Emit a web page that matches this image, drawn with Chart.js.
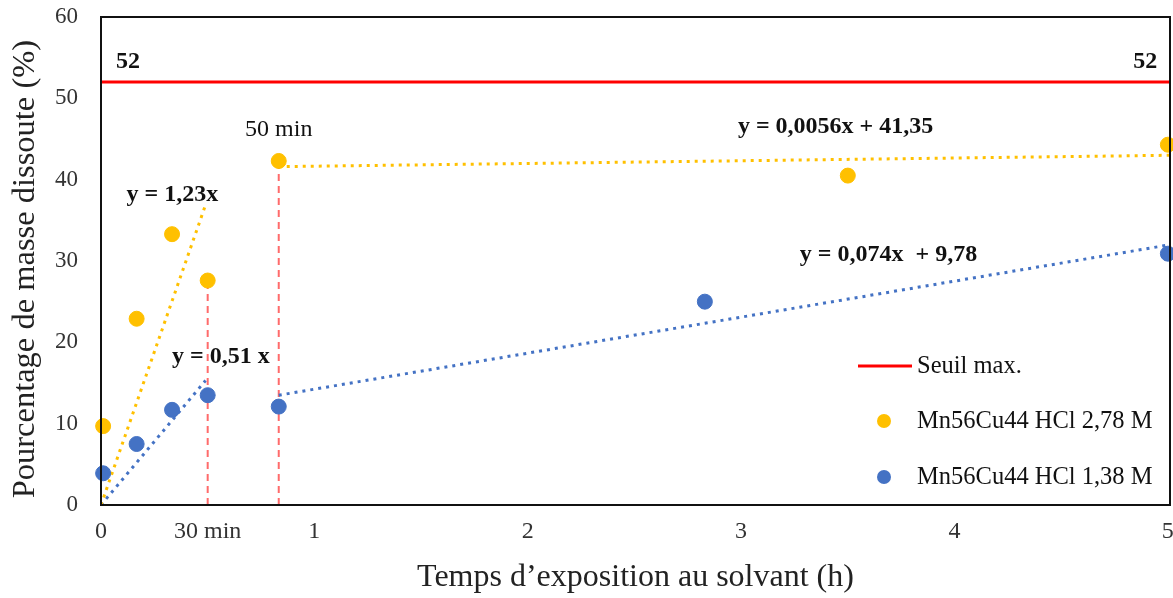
<!DOCTYPE html>
<html>
<head>
<meta charset="utf-8">
<script src="https://cdn.jsdelivr.net/npm/chart.js@4.4.0/dist/chart.umd.min.js"></script>
<style>
    html, body { margin: 0; padding: 0; background: #fff; }
    #wrap { width: 1173px; height: 598px; }
</style>
</head>
<body>
<div id="wrap"><canvas id="chart" width="1173" height="598"></canvas></div>
<script>
// temps en heures
const timesOrange = [0.01, 0.167, 0.333, 0.5, 0.833, 3.5, 5];
const valuesOrange = [9.7, 22.9, 33.3, 27.6, 42.3, 40.5, 44.3];
const timesBlue = [0.01, 0.167, 0.333, 0.5, 0.833, 2.83, 5];
const valuesBlue = [3.9, 7.5, 11.7, 13.5, 12.1, 25.0, 30.9];

const seuil = 52;
const xTickValues = [0, 0.5, 1, 2, 3, 4, 5];
const xTickLabels = ['0', '30 min', '1', '2', '3', '4', '5'];

// droites de tendance (extremites)
const fitOrangeEarly = [[0, 0], [0.49, 36.9]];
const fitBlueEarly = [[0, 0], [0.49, 15.3]];
const fitOrangeLate = [[0.833, 41.6], [5.01, 43.0]];
const fitBlueLate = [[0.833, 13.5], [5.01, 32.0]];

const labelOrange = 'Mn56Cu44 HCl 2,78 M';
const labelBlue = 'Mn56Cu44 HCl 1,38 M';
const labelSeuil = 'Seuil max.';

const ORANGE = '#FFC000';
const BLUE = '#4472C4';
const RED = '#FF0000';
const SERIF = '"Liberation Serif", "Times New Roman", serif';

const toPts = (xs, ys) => xs.map((x, i) => ({x: x, y: ys[i]}));
const pairPts = (arr) => arr.map(p => ({x: p[0], y: p[1]}));

// textes sur le graphique : [texte, x (h), y (%), alignement, gras]
const notes = [
    ['52', 0.07, 54.5, 'left', true],
    ['52', 4.95, 54.5, 'right', true],
    ['50 min', 0.833, 46.1, 'center', false],
    ['y = 1,23x', 0.12, 38.1, 'left', true],
    ['y = 0,51 x', 0.333, 18.2, 'left', true],
    ['y = 0,0056x + 41,35', 2.985, 46.5, 'left', true],
    ['y = 0,074x  + 9,78', 3.275, 30.75, 'left', true]
];

const trendStyle = (color, pts) => ({
    data: pairPts(pts),
    showLine: true,
    borderColor: color,
    borderWidth: 3,
    borderDash: [3, 5],
    pointRadius: 0,
    fill: false,
    order: 5
});

const dashed = (x, y) => ({
    data: [{x: x, y: 0}, {x: x, y: y}],
    showLine: true,
    borderColor: '#FF6B6B',
    borderWidth: 2,
    borderDash: [7, 5],
    pointRadius: 0,
    order: 6
});

const noPad = (scale) => {
    scale.paddingTop = 0;
    scale.paddingBottom = 0;
    scale.paddingLeft = 0;
    scale.paddingRight = 0;
};

const overlay = {
    id: 'overlay',
    afterDraw(chart) {
        const c = chart.ctx;
        const xs = chart.scales.x;
        const ys = chart.scales.y;
        const a = chart.chartArea;

        // cadre
        c.save();
        c.strokeStyle = '#111';
        c.lineWidth = 2;
        c.strokeRect(a.left, a.top, a.right - a.left, a.bottom - a.top);

        // textes
        c.fillStyle = '#111';
        c.textBaseline = 'middle';
        notes.forEach(n => {
            c.font = (n[4] ? 'bold 24px ' : '24px ') + SERIF;
            c.textAlign = n[3];
            c.fillText(n[0], xs.getPixelForValue(n[1]), ys.getPixelForValue(n[2]));
        });

        // legende
        const lx = a.right - 312;
        const tx = a.right - 253;
        c.font = '24.5px ' + SERIF;
        c.textAlign = 'left';
        c.strokeStyle = RED;
        c.lineWidth = 3;
        c.beginPath();
        c.moveTo(lx, a.top + 349);
        c.lineTo(lx + 54, a.top + 349);
        c.stroke();
        c.fillText(labelSeuil, tx, a.top + 350);

        c.fillStyle = ORANGE;
        c.beginPath();
        c.arc(lx + 26, a.top + 404, 7, 0, Math.PI * 2);
        c.fill();
        c.fillStyle = BLUE;
        c.beginPath();
        c.arc(lx + 26, a.top + 460, 7, 0, Math.PI * 2);
        c.fill();
        c.fillStyle = '#111';
        c.fillText(labelOrange, tx, a.top + 405);
        c.fillText(labelBlue, tx, a.top + 461);
        c.restore();
    }
};

const data = {
    datasets: [
        {
            label: labelOrange,
            data: toPts(timesOrange, valuesOrange),
            backgroundColor: ORANGE,
            borderColor: ORANGE,
            pointRadius: 7.5,
            clip: false,
            order: 1
        },
        {
            label: labelBlue,
            data: toPts(timesBlue, valuesBlue),
            backgroundColor: BLUE,
            borderColor: BLUE,
            pointRadius: 7.5,
            clip: false,
            order: 1
        },
        {
            label: labelSeuil,
            data: [{x: 0, y: seuil}, {x: 5.01, y: seuil}],
            showLine: true,
            borderColor: RED,
            borderWidth: 3,
            pointRadius: 0,
            order: 4
        },
        trendStyle(ORANGE, fitOrangeEarly),
        trendStyle(BLUE, fitBlueEarly),
        trendStyle(ORANGE, fitOrangeLate),
        trendStyle(BLUE, fitBlueLate),
        dashed(timesOrange[3], valuesOrange[3]),
        dashed(timesOrange[4], valuesOrange[4])
    ]
};

const config = {
    type: 'scatter',
    data: data,
    options: {
        responsive: false,
        animation: false,
        layout: {
            autoPadding: false,
            padding: {top: 17, right: 3, left: 0, bottom: 0}
        },
        plugins: {
            legend: {display: false},
            tooltip: {enabled: false}
        },
        scales: {
            x: {
                type: 'linear',
                min: 0,
                max: 5.01,
                grid: {display: false, drawTicks: false},
                border: {display: false},
                afterBuildTicks: (scale) => {
                    scale.ticks = xTickValues.map(v => ({value: v}));
                },
                afterFit: (scale) => { scale.height = 93; noPad(scale); },
                ticks: {
                    padding: 12,
                    maxRotation: 0,
                    autoSkip: false,
                    color: '#333',
                    font: {family: SERIF, size: 24},
                    callback: (v) => {
                        const i = xTickValues.indexOf(v);
                        return i >= 0 ? xTickLabels[i] : '';
                    }
                },
                title: {
                    display: true,
                    text: 'Temps d\u2019exposition au solvant (h)',
                    color: '#222',
                    font: {family: SERIF, size: 32},
                    padding: {top: 0, bottom: 1}
                }
            },
            y: {
                min: 0,
                max: 60,
                grid: {display: false, drawTicks: false},
                border: {display: false},
                afterFit: (scale) => { scale.width = 101; noPad(scale); },
                ticks: {
                    stepSize: 10,
                    padding: 23,
                    color: '#333',
                    font: {family: SERIF, size: 23}
                },
                title: {
                    display: true,
                    text: 'Pourcentage de masse dissoute (%)\u00a0\u00a0',
                    color: '#222',
                    font: {family: SERIF, size: 32.5},
                    padding: {top: 6, bottom: 0}
                }
            }
        }
    },
    plugins: [overlay]
};

const ctx = document.getElementById('chart');
new Chart(ctx, config);
</script>
</body>
</html>
